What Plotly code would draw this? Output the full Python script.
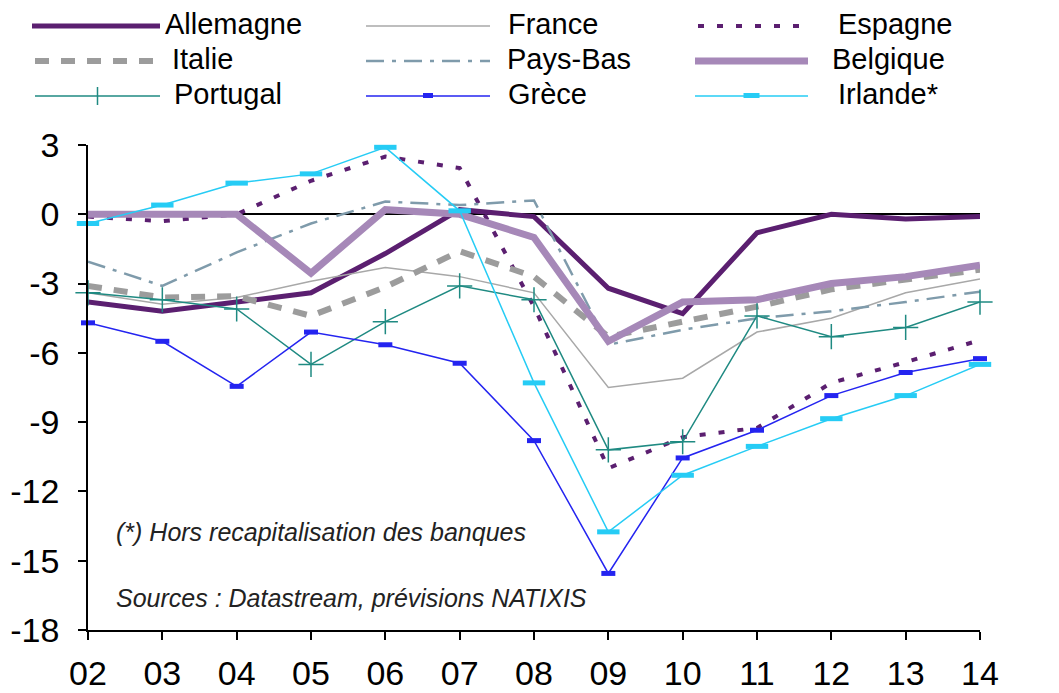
import plotly.graph_objects as go

years = ["02", "03", "04", "05", "06", "07", "08", "09", "10", "11", "12", "13", "14"]
xpos = [2, 3, 4, 5, 6, 7, 8, 9, 10, 11, 12, 13, 14]

allemagne = [-3.8, -4.2, -3.8, -3.4, -1.7, 0.2, -0.1, -3.2, -4.3, -0.8, 0.0, -0.2, -0.1]
france = [-3.4, -3.9, -3.6, -2.9, -2.3, -2.7, -3.4, -7.5, -7.1, -5.1, -4.5, -3.4, -2.8]
espagne = [-0.1, -0.3, 0.0, 1.45, 2.5, 2.0, -4.0, -11.0, -9.65, -9.25, -7.3, -6.4, -5.45]
italie = [-3.1, -3.6, -3.55, -4.4, -3.15, -1.6, -2.7, -5.3, -4.65, -4.0, -3.25, -2.85, -2.4]
pays_bas = [-2.05, -3.1, -1.65, -0.4, 0.55, 0.4, 0.6, -5.65, -5.0, -4.5, -4.2, -3.8, -3.35]
belgique = [0.0, 0.0, 0.0, -2.55, 0.2, 0.0, -1.0, -5.5, -3.8, -3.7, -3.0, -2.7, -2.2]
portugal = [-3.4, -3.7, -4.1, -6.5, -4.65, -3.1, -3.7, -10.2, -9.85, -4.4, -5.3, -4.9, -3.8]
grece = [-4.7, -5.5, -7.45, -5.1, -5.65, -6.45, -9.8, -15.55, -10.55, -9.35, -7.85, -6.85, -6.25]
irlande = [-0.4, 0.4, 1.35, 1.75, 2.9, 0.15, -7.3, -13.75, -11.3, -10.05, -8.85, -7.85, -6.5]

ytickvals = [3, 0, -3, -6, -9, -12, -15, -18]
yticktext = ["3", "0", "-3", "-6", "-9", "-12", "-15", "-18"]

C_DPURPLE = "#5B1F70"
C_FRANCE = "#A8A8A8"
C_ITALIE = "#9C9C9C"
C_PB = "#7F9BAB"
C_BELG = "#A688B8"
C_PORT = "#1F8A82"
C_GRECE = "#2424F0"
C_IRL = "#26CCF5"

FONT = "Liberation Sans, Arial, sans-serif"

fig = go.Figure()

def add(y, name, color, width, dash="solid", marker=None):
    kw = dict(x=xpos, y=y, name=name, mode="lines", showlegend=False,
              line=dict(color=color, width=width, dash=dash), cliponaxis=False)
    if marker is not None:
        kw["mode"] = "lines+markers"
        kw["marker"] = marker
    fig.add_trace(go.Scatter(**kw))

add(allemagne, "Allemagne", C_DPURPLE, 5)
add(france, "France", C_FRANCE, 1.5)
add(espagne, "Espagne", C_DPURPLE, 4, "6px,13px")
add(italie, "Italie", C_ITALIE, 6, "14px,12px")
add(pays_bas, "Pays-Bas", C_PB, 2.5, "18px,8px,4px,8px")
add(belgique, "Belgique", C_BELG, 7)
add(portugal, "Portugal", C_PORT, 1.5,
    marker=dict(symbol="cross-thin", size=18, line=dict(color=C_PORT, width=1.5)))
add(grece, "Grèce", C_GRECE, 1.5,
    marker=dict(symbol="line-ew", size=10, line=dict(color=C_GRECE, width=5)))
add(irlande, "Irlande*", C_IRL, 1.5,
    marker=dict(symbol="line-ew", size=16, line=dict(color=C_IRL, width=5)))

# page offset of the figure div (browser body margin)
OX, OY = 8, 8
PAGE_W, PAGE_H = 1059, 693
W, H = PAGE_W - OX, PAGE_H - OY
# plot area in page pixels: x 88..980, y 145..630
L, T = 88 - OX, 145 - OY
PW, PH = 892, 485
R = W - L - PW
B = H - T - PH

def px(x):
    return (x - OX - L) / PW

def py(y):
    return (T + PH - (y - OY)) / PH

shapes = []
annotations = []

legend_items = [
    ("Allemagne", 32, 160, 163, 24, dict(color=C_DPURPLE, width=5, dash="solid"), None),
    ("France", 366, 490, 506, 24, dict(color=C_FRANCE, width=1.5, dash="solid"), None),
    ("Espagne", 698, 808, 836, 24, dict(color=C_DPURPLE, width=4, dash="6px,13px"), None),
    ("Italie", 35, 160, 170, 59, dict(color=C_ITALIE, width=6, dash="14px,12px"), None),
    ("Pays-Bas", 366, 490, 505, 59, dict(color=C_PB, width=2.5, dash="18px,8px,4px,8px"), None),
    ("Belgique", 695, 808, 830, 59, dict(color=C_BELG, width=7, dash="solid"), None),
    ("Portugal", 35, 160, 172, 94, dict(color=C_PORT, width=1.5, dash="solid"), "cross"),
    ("Grèce", 366, 490, 506, 94, dict(color=C_GRECE, width=1.5, dash="solid"), "greek"),
    ("Irlande*", 695, 808, 836, 94, dict(color=C_IRL, width=1.5, dash="solid"), "irl"),
]

for name, x0, x1, tx, ry, style, mk in legend_items:
    ly = ry + 2
    shapes.append(dict(type="line", xref="paper", yref="paper",
                       x0=px(x0), x1=px(x1), y0=py(ly), y1=py(ly), line=style))
    mx = (x0 + x1) / 2
    if mk == "cross":
        shapes.append(dict(type="line", xref="paper", yref="paper",
                           x0=px(mx), x1=px(mx), y0=py(ly - 9), y1=py(ly + 9),
                           line=dict(color=C_PORT, width=1.5)))
    elif mk == "greek":
        shapes.append(dict(type="rect", xref="paper", yref="paper",
                           x0=px(mx - 5), x1=px(mx + 5), y0=py(ly - 3), y1=py(ly + 2),
                           line=dict(width=0), fillcolor=C_GRECE))
    elif mk == "irl":
        shapes.append(dict(type="rect", xref="paper", yref="paper",
                           x0=px(mx - 8), x1=px(mx + 8), y0=py(ly - 3), y1=py(ly + 2),
                           line=dict(width=0), fillcolor=C_IRL))
    annotations.append(dict(xref="paper", yref="paper", x=px(tx), y=py(ry),
                            text=name, showarrow=False, xanchor="left", yanchor="middle",
                            font=dict(family=FONT, size=29, color="#000000")))

annotations.append(dict(xref="paper", yref="paper", x=px(114), y=py(532),
                        text="<i>(*) Hors recapitalisation des banques</i>",
                        showarrow=False, xanchor="left", yanchor="middle",
                        font=dict(family=FONT, size=25, color="#222222")))
annotations.append(dict(xref="paper", yref="paper", x=px(114), y=py(598),
                        text="<i>Sources : Datastream, prévisions NATIXIS</i>",
                        showarrow=False, xanchor="left", yanchor="middle",
                        font=dict(family=FONT, size=25, color="#222222")))

axis_font = dict(family=FONT, size=34, color="#000000")

fig.update_layout(
    width=W, height=H,
    margin=dict(l=L, r=R, t=T, b=B, pad=0, autoexpand=False),
    paper_bgcolor="white", plot_bgcolor="white",
    shapes=shapes, annotations=annotations,
    xaxis=dict(range=[2, 14], tickvals=xpos, ticktext=years, showgrid=False,
               zeroline=False, showline=True, linecolor="black", linewidth=1.5,
               ticks="outside", ticklen=8, tickwidth=1.5, tickcolor="black",
               tickfont=axis_font, ticklabelstandoff=4, automargin=False),
    yaxis=dict(range=[-18, 3], tickvals=ytickvals, ticktext=yticktext, showgrid=False,
               zeroline=True, zerolinecolor="black", zerolinewidth=1.5,
               showline=True, linecolor="black", linewidth=1.5,
               ticks="outside", ticklen=8, tickwidth=1.5, tickcolor="black",
               tickfont=axis_font, ticklabelstandoff=12, automargin=False),
    yaxis2=dict(range=[-18, 3], tickvals=ytickvals, ticktext=yticktext,
                overlaying="y", side="right",
                showgrid=False, zeroline=False, showline=True, linecolor="black",
                linewidth=1.5, ticks="outside", ticklen=8, tickwidth=1.5,
                tickcolor="black", tickfont=axis_font, ticklabelstandoff=10,
                automargin=False),
)

fig.write_html("out.html")
